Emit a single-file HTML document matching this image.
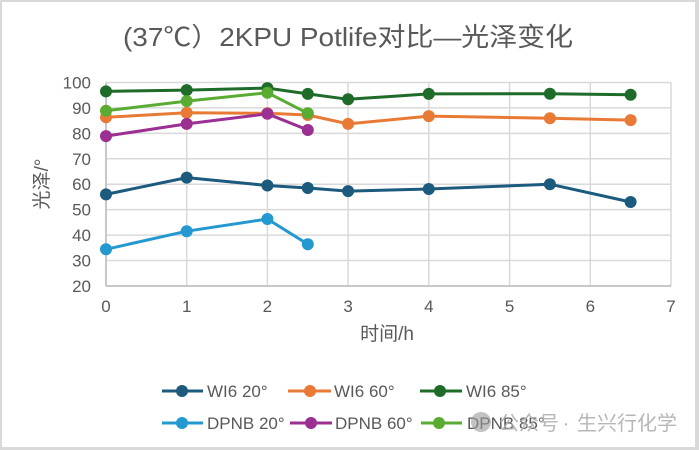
<!DOCTYPE html>
<html>
<head>
<meta charset="utf-8">
<style>
  html, body { margin:0; padding:0; background:#fff; }
  svg { display:block; }
  text { font-family: "Liberation Sans", "Noto Sans CJK SC", sans-serif; fill:#595959; }
</style>
</head>
<body>
<svg width="699" height="450" viewBox="0 0 699 450" xmlns="http://www.w3.org/2000/svg">
  <rect x="0" y="0" width="699" height="450" fill="#d9d9d9"/>
  <rect x="2" y="2" width="693" height="445" fill="#ffffff"/>

  <!-- Title -->
  <text x="123" y="46" font-size="26" textLength="450" lengthAdjust="spacingAndGlyphs">(37℃）2KPU Potlife对比—光泽变化</text>

  <!-- Gridlines -->
  <g stroke="#d9d9d9" stroke-width="1.5" fill="none">
    <line x1="106" y1="82.5" x2="671" y2="82.5"/>
    <line x1="106" y1="107.9" x2="671" y2="107.9"/>
    <line x1="106" y1="133.4" x2="671" y2="133.4"/>
    <line x1="106" y1="158.8" x2="671" y2="158.8"/>
    <line x1="106" y1="184.2" x2="671" y2="184.2"/>
    <line x1="106" y1="209.6" x2="671" y2="209.6"/>
    <line x1="106" y1="235.1" x2="671" y2="235.1"/>
    <line x1="106" y1="260.5" x2="671" y2="260.5"/>
    <line x1="186.7" y1="82.5" x2="186.7" y2="286"/>
    <line x1="267.4" y1="82.5" x2="267.4" y2="286"/>
    <line x1="348.1" y1="82.5" x2="348.1" y2="286"/>
    <line x1="428.8" y1="82.5" x2="428.8" y2="286"/>
    <line x1="509.6" y1="82.5" x2="509.6" y2="286"/>
    <line x1="590.3" y1="82.5" x2="590.3" y2="286"/>
    <line x1="671" y1="82.5" x2="671" y2="286"/>
  </g>
  <g stroke="#c8c8c8" stroke-width="2" fill="none">
    <line x1="106" y1="286" x2="671" y2="286"/>
    <line x1="106" y1="82.5" x2="106" y2="286"/>
  </g>

  <!-- Y tick labels -->
  <g font-size="17" text-anchor="end">
    <text x="91" y="88.5">100</text>
    <text x="91" y="113.9">90</text>
    <text x="91" y="139.4">80</text>
    <text x="91" y="164.8">70</text>
    <text x="91" y="190.2">60</text>
    <text x="91" y="215.6">50</text>
    <text x="91" y="241.1">40</text>
    <text x="91" y="266.5">30</text>
    <text x="91" y="291.9">20</text>
  </g>
  <!-- X tick labels -->
  <g font-size="17" text-anchor="middle">
    <text x="106" y="312">0</text>
    <text x="186.7" y="312">1</text>
    <text x="267.4" y="312">2</text>
    <text x="348.1" y="312">3</text>
    <text x="428.8" y="312">4</text>
    <text x="509.6" y="312">5</text>
    <text x="590.3" y="312">6</text>
    <text x="671" y="312">7</text>
  </g>

  <!-- Axis titles -->
  <text x="387" y="340" font-size="19" text-anchor="middle">时间/h</text>
  <text transform="translate(48,184) rotate(-90)" x="0" y="0" font-size="19" text-anchor="middle">光泽/°</text>

  <!-- Series -->
  <g stroke-width="3" fill="none" stroke-linejoin="round">
    <!-- WI6 20 -->
    <polyline stroke="#1c5a7e" points="106,194.4 186.7,177.6 267.4,185.5 307.8,188.0 348.1,191.1 428.8,189.0 549.9,184.2 630.6,202.0"/>
    <g fill="#1c5a7e" stroke="none">
      <circle cx="106" cy="194.4" r="6"/><circle cx="186.7" cy="177.6" r="6"/><circle cx="267.4" cy="185.5" r="6"/><circle cx="307.8" cy="188.0" r="6"/><circle cx="348.1" cy="191.1" r="6"/><circle cx="428.8" cy="189.0" r="6"/><circle cx="549.9" cy="184.2" r="6"/><circle cx="630.6" cy="202.0" r="6"/>
    </g>
    <!-- WI6 60 -->
    <polyline stroke="#e97a35" points="106,117.3 186.7,112.8 267.4,113.3 307.8,115.0 348.1,123.9 428.8,116.1 549.9,118.3 630.6,120.1"/>
    <g fill="#e97a35" stroke="none">
      <circle cx="106" cy="117.3" r="6"/><circle cx="186.7" cy="112.8" r="6"/><circle cx="267.4" cy="113.3" r="6"/><circle cx="307.8" cy="115.0" r="6"/><circle cx="348.1" cy="123.9" r="6"/><circle cx="428.8" cy="116.1" r="6"/><circle cx="549.9" cy="118.3" r="6"/><circle cx="630.6" cy="120.1" r="6"/>
    </g>
    <!-- WI6 85 -->
    <polyline stroke="#1e6b2a" points="106,91.4 186.7,90.1 267.4,88.1 307.8,93.9 348.1,99.3 428.8,93.9 549.9,93.7 630.6,94.7"/>
    <g fill="#1e6b2a" stroke="none">
      <circle cx="106" cy="91.4" r="6"/><circle cx="186.7" cy="90.1" r="6"/><circle cx="267.4" cy="88.1" r="6"/><circle cx="307.8" cy="93.9" r="6"/><circle cx="348.1" cy="99.3" r="6"/><circle cx="428.8" cy="93.9" r="6"/><circle cx="549.9" cy="93.7" r="6"/><circle cx="630.6" cy="94.7" r="6"/>
    </g>
    <!-- DPNB 20 -->
    <polyline stroke="#2399d0" points="106,249.3 186.7,231.2 267.4,219.0 307.8,244.2"/>
    <g fill="#2399d0" stroke="none">
      <circle cx="106" cy="249.3" r="6"/><circle cx="186.7" cy="231.2" r="6"/><circle cx="267.4" cy="219.0" r="6"/><circle cx="307.8" cy="244.2" r="6"/>
    </g>
    <!-- DPNB 60 -->
    <polyline stroke="#9b2f92" points="106,136.1 186.7,123.9 267.4,113.8 307.8,130.0"/>
    <g fill="#9b2f92" stroke="none">
      <circle cx="106" cy="136.1" r="6"/><circle cx="186.7" cy="123.9" r="6"/><circle cx="267.4" cy="113.8" r="6"/><circle cx="307.8" cy="130.0" r="6"/>
    </g>
    <!-- DPNB 85 -->
    <polyline stroke="#5aab32" points="106,110.7 186.7,101.1 267.4,92.7 307.8,113.3"/>
    <g fill="#5aab32" stroke="none">
      <circle cx="106" cy="110.7" r="6"/><circle cx="186.7" cy="101.1" r="6"/><circle cx="267.4" cy="92.7" r="6"/><circle cx="307.8" cy="113.3" r="6"/>
    </g>
  </g>

  <!-- Legend -->
  <g stroke-width="3">
    <line x1="162" y1="391" x2="203" y2="391" stroke="#1c5a7e"/><circle cx="182" cy="391" r="6" fill="#1c5a7e"/>
    <line x1="288" y1="391" x2="331" y2="391" stroke="#e97a35"/><circle cx="310" cy="391" r="6" fill="#e97a35"/>
    <line x1="420" y1="391" x2="462" y2="391" stroke="#1e6b2a"/><circle cx="440" cy="391" r="6" fill="#1e6b2a"/>
    <line x1="162" y1="423" x2="203" y2="423" stroke="#2399d0"/><circle cx="182" cy="423" r="6" fill="#2399d0"/>
    <line x1="290" y1="423" x2="332" y2="423" stroke="#9b2f92"/><circle cx="311" cy="423" r="6" fill="#9b2f92"/>
    <line x1="421" y1="423" x2="462" y2="423" stroke="#5aab32"/><circle cx="439" cy="423" r="6" fill="#5aab32"/>
  </g>
  <g font-size="17">
    <text x="207" y="397">WI6 20°</text>
    <text x="334" y="397">WI6 60°</text>
    <text x="466" y="397">WI6 85°</text>
    <text x="207" y="429">DPNB 20°</text>
    <text x="335" y="429">DPNB 60°</text>
    <text x="467" y="429">DPNB 85°</text>
  </g>

  <!-- Watermark -->
  <circle cx="481" cy="422" r="10" fill="#9a9a9a" opacity="0.6"/>
  <g font-size="20" style="fill:#b0b0b0" opacity="0.9">
    <text x="499" y="430" style="fill:#b0b0b0">公众号</text>
    <text x="566" y="430" text-anchor="middle" style="fill:#b0b0b0">·</text>
    <text x="577" y="430" style="fill:#b0b0b0">生兴行化学</text>
  </g>
</svg>
</body>
</html>
